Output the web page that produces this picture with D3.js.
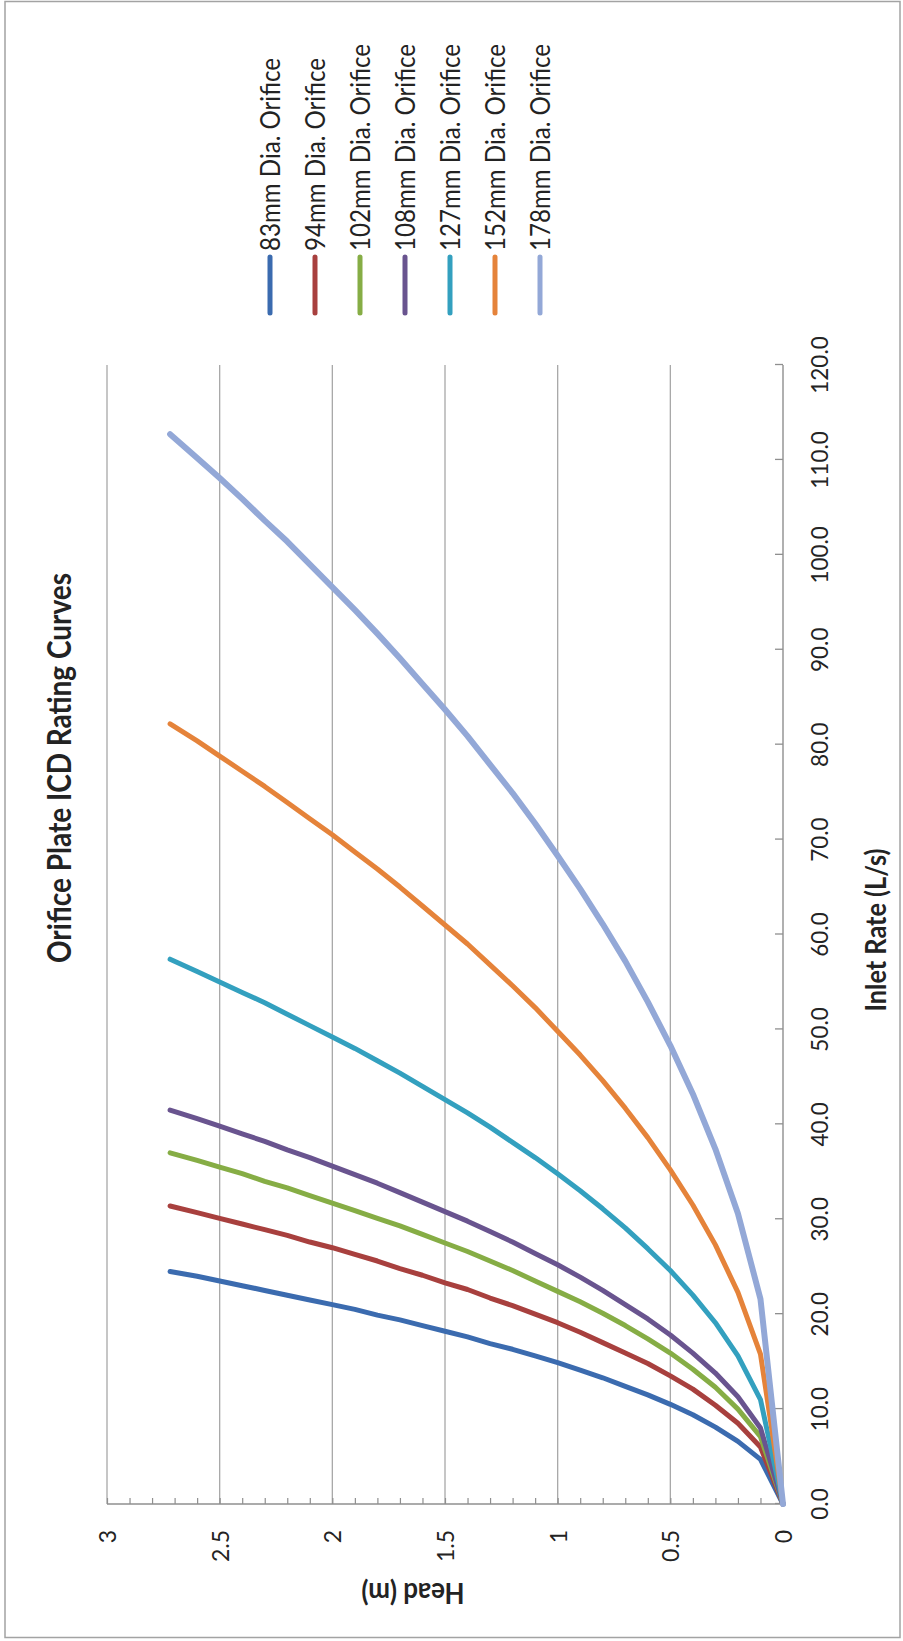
<!DOCTYPE html>
<html>
<head>
<meta charset="utf-8">
<script src="https://cdn.jsdelivr.net/npm/d3@7"></script>
<style>
  html, body { margin: 0; padding: 0; background: #ffffff; }
  svg { display: block; }
  text { font-family: Lato, "Open Sans", sans-serif; fill: #232323; }
</style>
</head>
<body>
<svg id="chart" width="903" height="1641"></svg>
<script>
// Head over the orifice (m), shared by every rating curve
const heads = [0, 0.1, 0.2, 0.3, 0.4, 0.5, 0.6, 0.7, 0.8, 0.9, 1.0, 1.1, 1.2, 1.3,
  1.4, 1.5, 1.6, 1.7, 1.8, 1.9, 2.0, 2.1, 2.2, 2.3, 2.4, 2.5, 2.6, 2.72];

// Inlet rate (L/s) through each orifice plate at those heads
const q83  = [0, 4.7, 6.6, 8.1, 9.4, 10.5, 11.5, 12.4, 13.3, 14.1, 14.9, 15.6, 16.3, 16.9,
  17.6, 18.2, 18.8, 19.4, 19.9, 20.5, 21.0, 21.5, 22.0, 22.5, 23.0, 23.5, 24.0, 24.5];
const q94  = [0, 6.0, 8.5, 10.4, 12.1, 13.5, 14.8, 15.9, 17.0, 18.1, 19.1, 20.0, 20.9, 21.7,
  22.6, 23.3, 24.1, 24.8, 25.6, 26.3, 27.0, 27.6, 28.3, 28.9, 29.5, 30.1, 30.7, 31.4];
const q102 = [0, 7.1, 10.0, 12.3, 14.2, 15.9, 17.4, 18.8, 20.1, 21.3, 22.4, 23.5, 24.6, 25.6,
  26.6, 27.5, 28.4, 29.3, 30.1, 30.9, 31.7, 32.5, 33.3, 34.0, 34.8, 35.5, 36.2, 37.0];
const q108 = [0, 8.0, 11.3, 13.8, 15.9, 17.8, 19.5, 21.0, 22.5, 23.9, 25.2, 26.4, 27.6, 28.7,
  29.8, 30.8, 31.8, 32.8, 33.8, 34.7, 35.6, 36.5, 37.3, 38.2, 39.0, 39.8, 40.6, 41.5];
const q127 = [0, 11.0, 15.6, 19.1, 22.0, 24.6, 26.9, 29.1, 31.1, 33.0, 34.8, 36.5, 38.1, 39.7,
  41.2, 42.6, 44.0, 45.4, 46.7, 48.0, 49.2, 50.4, 51.6, 52.8, 53.9, 55.0, 56.1, 57.4];
const q152 = [0, 15.8, 22.3, 27.3, 31.5, 35.2, 38.6, 41.7, 44.6, 47.3, 49.8, 52.3, 54.6, 56.8,
  59.0, 61.0, 63.0, 65.0, 66.9, 68.7, 70.5, 72.2, 73.9, 75.6, 77.2, 78.8, 80.4, 82.2];
const q178 = [0, 21.6, 30.6, 37.4, 43.2, 48.3, 52.9, 57.2, 61.1, 64.8, 68.3, 71.7, 74.9, 77.9,
  80.9, 83.7, 86.4, 89.1, 91.7, 94.2, 96.6, 99.0, 101.4, 103.6, 105.9, 108.1, 110.2, 112.7];

const seriesNames = ["83mm Dia. Orifice", "94mm Dia. Orifice", "102mm Dia. Orifice",
  "108mm Dia. Orifice", "127mm Dia. Orifice", "152mm Dia. Orifice", "178mm Dia. Orifice"];
const seriesFlows = [q83, q94, q102, q108, q127, q152, q178];

const inletTicks = [0, 10, 20, 30, 40, 50, 60, 70, 80, 90, 100, 110, 120];
const headTicks = [0, 0.5, 1, 1.5, 2, 2.5, 3];
const headMinorStep = 0.1;

const chartTitle = "Orifice Plate ICD Rating Curves";
const inletTitle = "Inlet Rate (L/s)";
const headTitle = "Head (m)";

const seriesColors = ["#3b6baf", "#a8403e", "#86ad45", "#69548f", "#33a0bf", "#e5833a", "#93a8d7"];

// ---------------------------------------------------------------------------
const svg = d3.select("#chart");
const W = 1641;   // chart drawn landscape (1641 x 903), then turned a quarter left

// outer chart frame
svg.append("rect")
  .attr("x", 5).attr("y", 1.5).attr("width", 895).attr("height", 1636)
  .attr("fill", "none").attr("stroke", "#a3a3a3").attr("stroke-width", 1.5);

const g = svg.append("g").attr("transform", `translate(0,${W}) rotate(-90)`);

const x = d3.scaleLinear().domain([0, 120]).range([137, 1276]);
const y = d3.scaleLinear().domain([0, 3]).range([783, 107]);

// size a text so it spans `target` px; glyphs drawn `stretch` taller than the
// face's natural proportions and squeezed back to that length
function fitText(sel, target, stretch) {
  sel.attr("font-size", 20);
  const len = sel.node().getComputedTextLength();
  const fs = 20 * target / len;
  sel.attr("font-size", fs * stretch)
     .attr("textLength", target)
     .attr("lengthAdjust", "spacingAndGlyphs");
  return fs;
}

// horizontal gridlines at the major head ticks
g.append("g").selectAll("line")
  .data(headTicks.filter(d => d > 0))
  .join("line")
  .attr("x1", x(0)).attr("x2", x(120))
  .attr("y1", d => y(d)).attr("y2", d => y(d))
  .attr("stroke", "#a8a8a8").attr("stroke-width", 1.3);

// inlet-rate axis (along head = 0) with inside tick marks
const xAxis = d3.axisTop(x).tickValues(inletTicks).tickSize(8).tickFormat("");
const gx = g.append("g").attr("transform", `translate(0,${y(0)})`).call(xAxis);
gx.select(".domain").attr("stroke", "#8f8f8f").attr("stroke-width", 1.4).attr("d", `M${x(0)},0H${x(120)}`);
gx.selectAll(".tick line").attr("stroke", "#8f8f8f").attr("stroke-width", 1.3);

g.append("g").selectAll("text")
  .data(inletTicks)
  .join("text")
  .attr("x", d => x(d)).attr("y", 828)
  .attr("text-anchor", "middle")
  .attr("font-size", 22.5)
  .text(d3.format(".1f"));

// head axis (along inlet = 0) with minor inside ticks every 0.1 m
const minorHeads = d3.range(0, 3 + 1e-9, headMinorStep).map(v => +v.toFixed(1));
const yAxis = d3.axisRight(y).tickValues(minorHeads).tickSize(6).tickFormat("");
const gy = g.append("g").attr("transform", `translate(${x(0)},0)`).call(yAxis);
gy.select(".domain").attr("stroke", "#8f8f8f").attr("stroke-width", 1.4).attr("d", `M0,${y(3)}V${y(0)}`);
gy.selectAll(".tick line").attr("stroke", "#8f8f8f").attr("stroke-width", 1.2);

g.append("g").selectAll("text")
  .data(headTicks)
  .join("text")
  .attr("x", 111).attr("y", d => y(d))
  .attr("text-anchor", "end")
  .attr("dominant-baseline", "central")
  .attr("font-size", 23)
  .text(d => String(d));

// rating curves
const line = d3.line().x(d => x(d[1])).y(d => y(d[0]));
seriesFlows.forEach((flows, i) => {
  const pts = heads.map((h, k) => [h, flows[k]]);
  g.append("path")
    .datum(pts)
    .attr("d", line)
    .attr("fill", "none")
    .attr("stroke", seriesColors[i])
    .attr("stroke-width", i === 6 ? 6 : 5)
    .attr("stroke-linejoin", "round")
    .attr("stroke-linecap", "round");
});

// title
const title = g.append("text")
  .attr("x", 873).attr("y", 71)
  .attr("text-anchor", "middle")
  .attr("font-weight", "bold")
  .text(chartTitle);
fitText(title, 390, 1.14);

// axis titles
const xt = g.append("text")
  .attr("x", 711).attr("y", 886)
  .attr("text-anchor", "middle")
  .attr("font-weight", "bold")
  .text(inletTitle);
fitText(xt, 163, 1.1);

const yt = g.append("text")
  .attr("transform", `translate(58,413) rotate(-90)`)
  .attr("text-anchor", "middle")
  .attr("font-weight", "bold")
  .text(headTitle);
fitText(yt, 103, 1.1);

// legend
const leg = g.append("g").selectAll("g")
  .data(seriesNames)
  .join("g")
  .attr("transform", (d, i) => `translate(0,${270 + 45 * i})`);
leg.append("line")
  .attr("x1", 1328).attr("x2", 1384)
  .attr("stroke", (d, i) => seriesColors[i])
  .attr("stroke-width", 5).attr("stroke-linecap", "round");
const legText = leg.append("text")
  .attr("x", 1390).attr("y", 0)
  .attr("dominant-baseline", "central")
  .text(d => d);
const legStretch = 1.1;
const legSize = fitText(d3.select(legText.nodes()[0]), 193, legStretch);
legText.each(function () {
  const t = d3.select(this).attr("font-size", legSize).attr("textLength", null);
  const len = this.getComputedTextLength();
  t.attr("font-size", legSize * legStretch)
   .attr("textLength", len)
   .attr("lengthAdjust", "spacingAndGlyphs");
});
</script>
</body>
</html>
